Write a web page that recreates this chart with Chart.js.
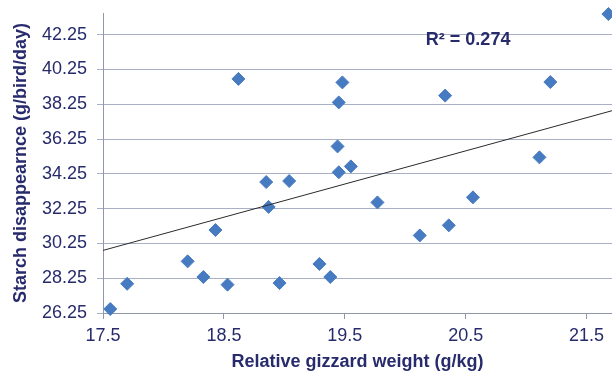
<!DOCTYPE html>
<html lang="en">
<head>
  <meta charset="UTF-8" />
  <title>Starch disappearance vs gizzard weight</title>
  <script src="https://cdn.jsdelivr.net/npm/chart.js"></script>
  <style>
    html, body { margin: 0; padding: 0; background: #fff; overflow: hidden; }
    #wrap { width: 612px; height: 373px; }
  </style>
</head>
<body>
  <div id="wrap"><canvas id="scatter" width="612" height="373"></canvas></div>

  <script>
    // values
    const gizzardWeight = [17.56, 17.70, 18.20, 18.33, 18.43, 18.53, 18.62, 18.85, 18.87, 18.96, 19.04, 19.29, 19.38,
                           19.48, 19.45, 19.44, 19.45, 19.55, 19.77, 20.12, 20.36, 20.33, 20.56, 21.11, 21.20, 21.68];
    const starchDisappearance = [26.48, 27.93, 29.22, 28.32, 31.02, 27.88, 39.71, 33.78, 32.35, 27.97, 33.84, 29.07, 28.32,
                                 39.51, 38.36, 35.83, 34.34, 34.68, 32.61, 30.71, 31.29, 38.75, 32.90, 35.20, 39.53, 43.44];
    const trendX = [17.5, 21.72];
    const trendY = [29.85, 37.9];
    const xTicks = [17.5, 18.5, 19.5, 20.5, 21.5];
    const yTicks = [26.25, 28.25, 30.25, 32.25, 34.25, 36.25, 38.25, 40.25, 42.25];
    const r2Label = "R\u00b2 = 0.274";

    const navy = "#272b6c";
    const font = "'Liberation Sans', Arial, sans-serif";

    const r2Plugin = {
      id: "r2",
      afterDatasetsDraw(chart) {
        const ctx = chart.ctx;
        const x = chart.scales.x.getPixelForValue(20.52);
        const y = chart.scales.y.getPixelForValue(41.97);
        ctx.save();
        ctx.font = "bold 18px " + font;
        ctx.fillStyle = navy;
        ctx.textAlign = "center";
        ctx.textBaseline = "middle";
        ctx.fillText(r2Label, x, y);
        ctx.restore();
      }
    };

    const ctx = document.getElementById("scatter").getContext("2d");
    new Chart(ctx, {
      type: "scatter",
      data: {
        datasets: [
          {
            label: "Trend",
            type: "line",
            data: trendX.map((x, i) => ({ x, y: trendY[i] })),
            borderColor: "#2a2a2a",
            borderWidth: 1,
            pointRadius: 0,
            fill: false,
            clip: false,
          },
          {
            label: "Birds",
            data: gizzardWeight.map((x, i) => ({ x, y: starchDisappearance[i] })),
            pointStyle: "rectRot",
            pointRadius: 6.5,
            backgroundColor: "#477bc1",
            borderColor: "#477bc1",
            borderWidth: 1,
            clip: false,
          },
        ],
      },
      options: {
        responsive: false,
        animation: false,
        layout: { autoPadding: false, padding: { top: 13, right: 0, left: 0, bottom: 0 } },
        plugins: { legend: { display: false }, tooltip: { enabled: false } },
        scales: {
          x: {
            type: "linear",
            min: 17.5,
            max: 21.71,
            afterBuildTicks: s => { s.ticks = xTicks.map(v => ({ value: v })); },
            afterFit: s => { s.height = 60; s.paddingLeft = 0; s.paddingRight = 0; },
            grid: { drawOnChartArea: false, drawTicks: true, tickLength: 6, color: "#8f98ab" },
            border: { display: true, color: "#8f98ab" },
            ticks: { color: navy, font: { family: font, size: 18 }, padding: 6, maxRotation: 0,
                     callback: v => v.toFixed(1) },
            title: { display: true, text: "Relative gizzard weight (g/kg)", color: navy,
                     font: { family: font, size: 18, weight: "bold" }, padding: { top: 0, bottom: 0 } },
          },
          y: {
            min: 26.25,
            max: 43.5,
            afterBuildTicks: s => { s.ticks = yTicks.map(v => ({ value: v })); },
            afterFit: s => { s.width = 103; s.paddingTop = 0; s.paddingBottom = 0; },
            grid: { color: "#a7b0c4", tickLength: 6, drawTicks: true },
            border: { display: true, color: "#8f98ab" },
            ticks: { color: navy, font: { family: font, size: 18 }, padding: 10,
                     callback: v => v.toFixed(2) },
            title: { display: true, text: "Starch disappearnce (g/bird/day)", color: navy,
                     font: { family: font, size: 18, weight: "bold" }, padding: { top: 10, bottom: 0 } },
          },
        },
      },
      plugins: [r2Plugin],
    });
  </script>
</body>
</html>
